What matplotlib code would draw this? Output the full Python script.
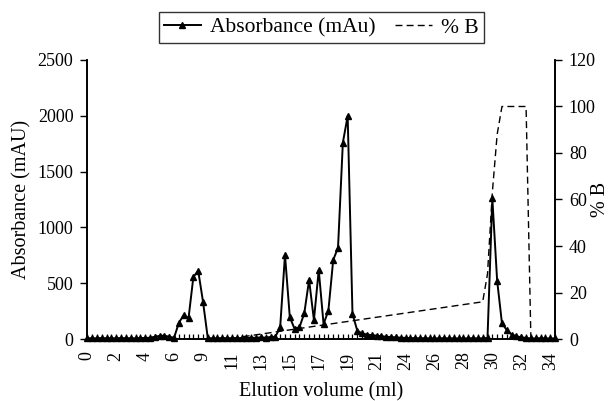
import matplotlib
matplotlib.use("Agg")
import matplotlib.pyplot as plt

# tick labels of the category (fraction) axis, one label every 6 fractions
volume_labels = ["0", "2", "4", "6", "9", "11", "13", "15", "17", "19",
                 "21", "24", "26", "28", "30", "32", "34"]
label_step = 6

# absorbance (mAU) per fraction
absorbance = [5, 8, 5, 10, 6, 8, 5, 10, 6, 8,
              5, 10, 8, 12, 20, 28, 30, 20, 12, 146,
              215, 188, 556, 612, 334, 5, 8, 5, 10, 6,
              8, 5, 10, 8, 12, 10, 15, 12, 18, 20,
              105, 753, 195, 90, 105, 230, 529, 170, 618, 134,
              254, 708, 818, 1759, 1998, 224, 74, 50, 40, 35,
              30, 25, 20, 18, 15, 12, 10, 8, 8, 6,
              8, 5, 6, 5, 8, 5, 6, 5, 6, 5,
              8, 5, 6, 10, 1260, 522, 140, 80, 40, 25,
              15, 10, 5, 5, 8, 5, 5, 5]

# gradient (% B): fraction index of each break point and its value
gradient_fraction = [0, 29, 82, 83, 84, 85, 86, 91, 92, 97]
gradient_pct_b = [0, 0, 16, 28, 63, 88, 100, 100, 0, 0]

if __name__ == "__main__":
    plt.rcParams['font.family'] = ['Liberation Serif', 'DejaVu Serif']

    fig = plt.figure(figsize=(6.13, 4.01), dpi=100)
    ax1 = fig.add_axes([0.1424, 0.1546, 0.7630, 0.6958])
    ax2 = ax1.twinx()

    fractions = list(range(len(absorbance)))
    l1, = ax1.plot(fractions, absorbance, color='black', lw=1.4, marker='^',
                   markersize=4.8, clip_on=False, zorder=3)
    l2, = ax2.plot(gradient_fraction, gradient_pct_b, color='black', lw=1.0,
                   ls=(0, (5, 3)))

    ax1.set_xlim(0, len(absorbance) - 1)
    ax1.set_ylim(0, 2500)
    ax2.set_ylim(0, 120)
    ax1.set_yticks(range(0, 2501, 500))
    ax2.set_yticks(range(0, 121, 20))

    ax1.set_xticks(range(0, len(absorbance), label_step))
    ax1.set_xticklabels(volume_labels, rotation=90)
    ax1.set_xticks(fractions, minor=True)
    ax1.tick_params(axis='x', which='both', direction='in', length=3.5,
                    width=0.9, labelsize=13, pad=9)
    ax1.tick_params(axis='y', direction='out', length=5, width=1,
                    labelsize=13, pad=5)
    ax2.tick_params(axis='y', direction='out', length=5, width=1,
                    labelsize=13, pad=5)

    for ax in [ax1, ax2]:
        ax.spines['top'].set_visible(False)
        for s in ['left', 'right', 'bottom']:
            ax.spines[s].set_linewidth(1.2)

    ax1.set_xlabel("Elution volume (ml)", fontsize=14.5, labelpad=9)
    ax1.set_ylabel("Absorbance (mAU)", fontsize=14.5, labelpad=4)
    ax2.set_ylabel("% B", fontsize=14.5)
    ax2.yaxis.set_label_coords(1.078, 0.5)

    leg = fig.legend([l1, l2], ["Absorbance (mAu)", "% B"], loc='center',
                     bbox_to_anchor=(0.5245, 0.931), ncol=2, fontsize=15.5,
                     frameon=True, fancybox=False, edgecolor='black',
                     handlelength=1.7, columnspacing=0.9, borderpad=0.25,
                     handletextpad=0.45, borderaxespad=0)
    leg.get_frame().set_linewidth(1.0)

    fig.savefig("out.png", dpi=100)
    plt.close(fig=fig)
